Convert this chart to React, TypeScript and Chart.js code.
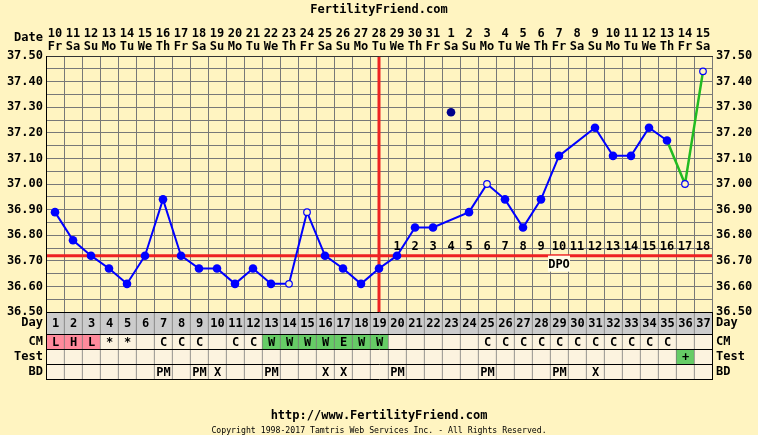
import React, { useEffect, useRef } from 'react';
import { Chart, registerables } from 'chart.js';

Chart.register(...registerables);

// ---------- data ----------
const cycleDays = ['1','2','3','4','5','6','7','8','9','10','11','12','13','14','15','16','17','18','19','20','21','22','23','24','25','26','27','28','29','30','31','32','33','34','35','36','37'];
const dateNums = ['10','11','12','13','14','15','16','17','18','19','20','21','22','23','24','25','26','27','28','29','30','31','1','2','3','4','5','6','7','8','9','10','11','12','13','14','15'];
const weekdays = ['Fr','Sa','Su','Mo','Tu','We','Th','Fr','Sa','Su','Mo','Tu','We','Th','Fr','Sa','Su','Mo','Tu','We','Th','Fr','Sa','Su','Mo','Tu','We','Th','Fr','Sa','Su','Mo','Tu','We','Th','Fr','Sa'];
const temps: (number | null)[] = [36.89, 36.78, 36.72, 36.67, 36.61, 36.72, 36.94, 36.72, 36.67, 36.67, 36.61, 36.67, 36.61, 36.61, 36.89, 36.72, 36.67, 36.61, 36.67, 36.72, 36.83, 36.83, null, 36.89, 37.00, 36.94, 36.83, 36.94, 37.11, null, 37.22, 37.11, 37.11, 37.22, 37.17, 37.00, 37.44];
const discardedTemps: (number | null)[] = [null, null, null, null, null, null, null, null, null, null, null, null, null, null, null, null, null, null, null, null, null, null, 37.28, null, null, null, null, null, null, null, null, null, null, null, null, null, null];
const openDays = [14, 15, 25, 36, 37];
const greenFromDay = 35;
const coverline = 36.72;
const ovulationDay = 19;
const dpoLabels = ['1','2','3','4','5','6','7','8','9','10','11','12','13','14','15','16','17','18'];
const dpoTagAt = 10;
const cmValues = ['L','H','L','*','*','','C','C','C','','C','C','W','W','W','W','E','W','W','','','','','','C','C','C','C','C','C','C','C','C','C','C','',''];
const testValues = ['','','','','','','','','','','','','','','','','','','','','','','','','','','','','','','','','','','','+',''];
const bdValues = ['','','','','','','PM','','PM','X','','','PM','','','X','X','','','PM','','','','','PM','','','','PM','','X','','','','','',''];
const rowLabels = ['Day', 'CM', 'Test', 'BD'];
const tempTickLabels = ['36.50','36.60','36.70','36.80','36.90','37.00','37.10','37.20','37.30','37.40','37.50'];

// ---------- layout / style ----------
const rowEdges = [0, 22, 37, 52, 67];
const MONO = "'DejaVu Sans Mono', monospace";
const BG = '#FFF4C1';
const CELL = '#FCF3DF';
const DAYROW = '#CCCCCC';
const PINK = '#FF8A9C';
const GREENCELL = '#66CC66';
const GRID = '#787878';
const BLUE = '#0000FF';
const GREEN = '#22BB22';
const RED = '#EE2222';

const cmColor = (v: string) => (v === 'L' || v === 'H' ? PINK : v === 'W' || v === 'E' ? GREENCELL : CELL);
const testColor = (v: string) => (v === '+' ? GREENCELL : CELL);

const rowTicks: number[] = [];
const rowTickLabel: Record<string, string> = {};
rowEdges.forEach((e, i) => {
  rowTicks.push(e);
  rowTickLabel[String(e)] = '';
  if (i < rowEdges.length - 1) {
    const mid = (e + rowEdges[i + 1]) / 2;
    rowTicks.push(mid);
    rowTickLabel[String(mid)] = rowLabels[i];
  }
});

const tempLabel = (v: number | string) => {
  const s = Number(v).toFixed(2);
  return tempTickLabels.includes(s) ? s : '';
};

const boldFont = { family: MONO, size: 12, weight: 'bold' as const };

function rowDataset(r: number, texts: string[], colors: string[]) {
  return {
    type: 'bar' as const,
    label: rowLabels[r],
    yAxisID: 'yt',
    data: cycleDays.map(() => [rowEdges[r], rowEdges[r + 1]]),
    backgroundColor: colors,
    borderColor: GRID,
    borderWidth: { left: 1, right: 0, top: 0, bottom: 0 },
    borderSkipped: false,
    barPercentage: 1,
    categoryPercentage: 1,
    grouped: false,
    order: 5,
    cellText: texts,
  } as any;
}

const decorPlugin = {
  id: 'ffDecor',
  beforeDraw(chart: any) {
    const { ctx, width, height } = chart;
    ctx.save();
    ctx.fillStyle = BG;
    ctx.fillRect(0, 0, width, height);
    ctx.restore();
  },
  beforeDatasetsDraw(chart: any) {
    const { ctx, chartArea, scales } = chart;
    const x = scales.x;
    const y = scales.y;
    ctx.save();
    const cy = y.getPixelForValue(coverline);
    ctx.strokeStyle = RED;
    ctx.lineWidth = 3;
    ctx.beginPath();
    ctx.moveTo(chartArea.left, cy);
    ctx.lineTo(chartArea.right, cy);
    ctx.stroke();
    const ox = x.getPixelForValue(ovulationDay - 1);
    ctx.beginPath();
    ctx.moveTo(ox, y.top);
    ctx.lineTo(ox, y.bottom);
    ctx.stroke();

    ctx.font = `bold 12px ${MONO}`;
    ctx.fillStyle = '#000';
    ctx.textAlign = 'center';
    ctx.textBaseline = 'middle';
    dpoLabels.forEach((t, i) => {
      const px = x.getPixelForValue(ovulationDay + i);
      ctx.fillText(t, px, cy - 9);
    });
    const dx = x.getPixelForValue(ovulationDay - 1 + dpoTagAt);
    ctx.fillStyle = '#FFFCE8';
    ctx.fillRect(dx - 11, cy, 22, 16);
    ctx.fillStyle = '#000';
    ctx.fillText('DPO', dx, cy + 9);
    ctx.restore();
  },
  afterDatasetsDraw(chart: any) {
    const { ctx } = chart;
    ctx.save();
    ctx.font = `bold 12px ${MONO}`;
    ctx.fillStyle = '#000';
    ctx.textAlign = 'center';
    ctx.textBaseline = 'middle';
    chart.data.datasets.forEach((ds: any, i: number) => {
      if (!ds.cellText) return;
      const meta = chart.getDatasetMeta(i);
      meta.data.forEach((el: any, j: number) => {
        const t = ds.cellText[j];
        if (!t) return;
        ctx.fillText(t, el.x + 0.5, (el.y + el.base) / 2 + 1);
      });
    });
    ctx.restore();
  },
  afterDraw(chart: any) {
    const { ctx, chartArea, width } = chart;
    ctx.save();
    ctx.fillStyle = '#000';
    ctx.textBaseline = 'middle';
    ctx.textAlign = 'center';
    ctx.font = `bold 12px ${MONO}`;
    ctx.fillText('FertilityFriend.com', width / 2, 10);
    ctx.fillText('http://www.FertilityFriend.com', width / 2, 416);
    ctx.font = `8.2px ${MONO}`;
    ctx.fillText('Copyright 1998-2017 Tamtris Web Services Inc. - All Rights Reserved.', width / 2, 431);
    ctx.textAlign = 'right';
    ctx.font = `bold 12px ${MONO}`;
    ctx.fillText('Date', chartArea.left - 3, 38);
    ctx.restore();
  },
};

export default function App() {
  const ref = useRef<HTMLCanvasElement>(null);
  useEffect(() => {
    document.body.style.margin = '0';
    const isOpen = (i: number) => openDays.includes(i + 1);
    const chart = new Chart(ref.current as HTMLCanvasElement, {
      type: 'line',
      data: {
        labels: cycleDays,
        datasets: [
          {
            type: 'line',
            label: 'Temp',
            yAxisID: 'y',
            data: temps,
            borderColor: BLUE,
            borderWidth: 2,
            spanGaps: true,
            tension: 0,
            order: 0,
            segment: {
              borderColor: (c: any) => (c.p0DataIndex >= greenFromDay - 1 ? GREEN : undefined),
              borderWidth: (c: any) => (c.p0DataIndex >= greenFromDay - 1 ? 2.5 : undefined),
              borderDash: (c: any) => (c.p1DataIndex - c.p0DataIndex > 1 ? [5, 4] : undefined),
            },
            pointRadius: temps.map((_, i) => (isOpen(i) ? 3.3 : 4.3)),
            pointBackgroundColor: temps.map((_, i) => (isOpen(i) ? BG : BLUE)),
            pointBorderColor: BLUE,
            pointBorderWidth: temps.map((_, i) => (isOpen(i) ? 1.2 : 0)),
          } as any,
          {
            type: 'line',
            label: 'Discarded',
            yAxisID: 'y',
            data: discardedTemps,
            showLine: false,
            pointRadius: 4.3,
            pointBackgroundColor: '#00008C',
            pointBorderWidth: 0,
            order: 1,
          } as any,
          rowDataset(0, cycleDays, cycleDays.map(() => DAYROW)),
          rowDataset(1, cmValues, cmValues.map(cmColor)),
          rowDataset(2, testValues, testValues.map(testColor)),
          rowDataset(3, bdValues, bdValues.map(() => CELL)),
        ],
      },
      options: {
        animation: false,
        responsive: false,
        events: [],
        layout: { padding: { top: 0, left: 0, right: 0, bottom: 56 } },
        plugins: { legend: { display: false }, tooltip: { enabled: false }, title: { display: false } },
        scales: {
          x: {
            type: 'category',
            position: 'top',
            offset: true,
            grid: { offset: true, color: GRID, lineWidth: 1, drawTicks: false },
            border: { display: true, color: '#333', z: 1 },
            ticks: {
              autoSkip: false,
              maxRotation: 0,
              minRotation: 0,
              padding: 3,
              color: '#000',
              font: { ...boldFont, lineHeight: '13px' } as any,
              callback: (_v: any, i: number) => [dateNums[i], weekdays[i]],
            },
            afterFit: (s: any) => { s.height = 56; },
          },
          yt: {
            type: 'linear',
            position: 'left',
            stack: 'L',
            stackWeight: 67,
            min: 0,
            max: 67,
            reverse: true,
            afterBuildTicks: (s: any) => { s.ticks = rowTicks.map((v) => ({ value: v })); },
            grid: { z: 1, drawTicks: false, lineWidth: 1, color: (c: any) => (c.tick && rowEdges.includes(c.tick.value) ? '#000' : 'rgba(0,0,0,0)') },
            border: { display: true, color: '#000', z: 1 },
            ticks: { autoSkip: false, padding: 3, color: '#000', font: boldFont, callback: (v: any) => rowTickLabel[String(v)] ?? '' },
            afterFit: (s: any) => { s.width = 46; },
          },
          y: {
            type: 'linear',
            position: 'left',
            stack: 'L',
            stackWeight: 256,
            min: 36.5,
            max: 37.5,
            grid: { color: GRID, lineWidth: 1, drawTicks: false },
            border: { display: true, color: '#000', z: 1 },
            ticks: { stepSize: 0.05, maxTicksLimit: 100, autoSkip: false, padding: 3, color: '#000', font: boldFont, callback: (v: any) => tempLabel(v) },
            afterFit: (s: any) => { s.width = 46; },
          },
          y2: {
            type: 'linear',
            position: 'right',
            stack: 'R',
            stackWeight: 256,
            min: 36.5,
            max: 37.5,
            grid: { display: false, drawTicks: false },
            border: { display: false },
            ticks: { stepSize: 0.05, maxTicksLimit: 100, autoSkip: false, padding: 4, color: '#000', font: boldFont, callback: (v: any) => tempLabel(v) },
            afterFit: (s: any) => { s.width = 46; },
          },
          yt2: {
            type: 'linear',
            position: 'right',
            stack: 'R',
            stackWeight: 67,
            min: 0,
            max: 67,
            reverse: true,
            afterBuildTicks: (s: any) => { s.ticks = rowTicks.map((v) => ({ value: v })); },
            grid: { display: false, drawTicks: false },
            border: { display: true, color: '#000', z: 1 },
            ticks: { autoSkip: false, padding: 4, color: '#000', font: boldFont, callback: (v: any) => rowTickLabel[String(v)] ?? '' },
            afterFit: (s: any) => { s.width = 46; },
          },
        } as any,
      },
      plugins: [decorPlugin],
    } as any);
    return () => chart.destroy();
  }, []);
  return <canvas ref={ref} width={758} height={435} style={{ display: 'block', width: 758, height: 435 }} />;
}
